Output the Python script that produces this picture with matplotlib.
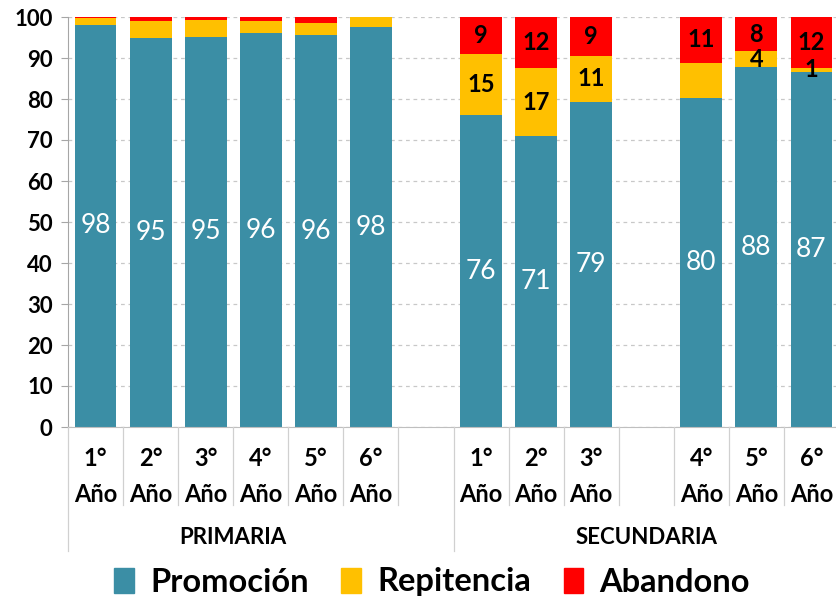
import matplotlib
matplotlib.use("Agg")
import matplotlib.pyplot as plt
from matplotlib.transforms import blended_transform_factory
from matplotlib.lines import Line2D
from matplotlib.patches import Patch

# Tasas de promoción, repitencia y abandono por año (%)
grades = ["1°", "2°", "3°", "4°", "5°", "6°"]
prim_promo = [98.1, 94.9, 95.2, 96.0, 95.5, 97.5]
prim_repit = [1.6, 4.2, 4.1, 3.1, 3.0, 2.5]
prim_aband = [0.3, 0.9, 0.7, 0.9, 1.5, 0.0]

sec_promo = [76.0, 70.9, 79.3, 80.2, 87.7, 86.6]
sec_repit = [15.0, 16.7, 11.3, 8.7, 3.9, 1.0]
sec_aband = [9.0, 12.4, 9.4, 11.1, 8.4, 12.4]
sec_show_repit = [True, True, True, False, True, True]

TEAL = "#3B8EA5"
YELLOW = "#FFC000"
RED = "#FF0000"

plt.rcParams["font.family"] = ["Lato", "DejaVu Sans"]

W, H = 837, 601
fig = plt.figure(figsize=(W / 100, H / 100), dpi=100)
ax = fig.add_axes([68 / W, 1 - 427 / H, 771 / W, 410 / H])

# slot positions: 6 primaria, gap, 3 secundaria, gap, 3 secundaria
prim_x = list(range(6))
sec_x = [7, 8, 9, 11, 12, 13]
bw = 0.76

ax.bar(prim_x, prim_promo, bw, color=TEAL, zorder=2)
ax.bar(prim_x, prim_repit, bw, bottom=prim_promo, color=YELLOW, zorder=2)
ax.bar(prim_x, prim_aband, bw,
       bottom=[p + r for p, r in zip(prim_promo, prim_repit)], color=RED, zorder=2)

ax.bar(sec_x, sec_promo, bw, color=TEAL, zorder=2)
ax.bar(sec_x, sec_repit, bw, bottom=sec_promo, color=YELLOW, zorder=2)
ax.bar(sec_x, sec_aband, bw,
       bottom=[p + r for p, r in zip(sec_promo, sec_repit)], color=RED, zorder=2)

for x, v in zip(prim_x + sec_x, prim_promo + sec_promo):
    ax.text(x, v / 2, f"{v:.0f}", color="white", fontsize=19,
            ha="center", va="center", zorder=3)

for x, p, r, a, show in zip(sec_x, sec_promo, sec_repit, sec_aband, sec_show_repit):
    if show:
        ax.text(x, p + r / 2, f"{r:.0f}", color="black", fontsize=17,
                fontweight="bold", ha="center", va="center", zorder=3)
    ax.text(x, p + r + a / 2, f"{a:.0f}", color="black", fontsize=17,
            fontweight="bold", ha="center", va="center", zorder=3)

ax.set_xlim(-0.5, 13.5)
ax.set_ylim(0, 100)
ax.set_yticks(range(0, 101, 10))
ax.tick_params(axis="y", labelsize=16, length=5, color="#A6A6A6", pad=6)
for lbl in ax.get_yticklabels():
    lbl.set_fontweight("bold")
ax.set_xticks([])
ax.yaxis.grid(True, linestyle=(0, (3, 3)), color="#C8C8C8", linewidth=0.9, zorder=0)
for s in ["top", "right"]:
    ax.spines[s].set_visible(False)
ax.spines["left"].set_color("#A6A6A6")
ax.spines["bottom"].set_color("#BFBFBF")

# category axis: year labels, separators and group names
tr = blended_transform_factory(ax.transData, fig.transFigure)
def fy(px):
    return 1 - px / H

for x, g in zip(prim_x + sec_x, grades + grades):
    ax.text(x, fy(459), g, transform=tr, ha="center", va="center",
            fontsize=17, fontweight="bold")
    ax.text(x, fy(494), "Año", transform=tr, ha="center", va="center",
            fontsize=17, fontweight="bold")

for k in range(15):
    edge = k - 0.5
    long_line = edge in (-0.5, 6.5, 13.5)
    y_end = 551 if long_line else 505
    fig.add_artist(Line2D([edge, edge], [fy(427), fy(y_end)], transform=tr,
                          color="#D0D0D0", linewidth=0.9))

ax.text(2.5, fy(537), "PRIMARIA", transform=tr, ha="center", va="center",
        fontsize=16, fontweight="bold")
ax.text(10.0, fy(537), "SECUNDARIA", transform=tr, ha="center", va="center",
        fontsize=16, fontweight="bold")

handles = [Patch(color=TEAL, label="Promoción"),
           Patch(color=YELLOW, label="Repitencia"),
           Patch(color=RED, label="Abandono")]
fig.legend(handles=handles, loc="center", bbox_to_anchor=(432 / W, fy(582)),
           ncol=3, frameon=False, prop={"size": 23.5, "weight": "bold"},
           handlelength=0.6, handleheight=0.8, handletextpad=0.5, columnspacing=1.0)

fig.savefig("out.png", dpi=100)
